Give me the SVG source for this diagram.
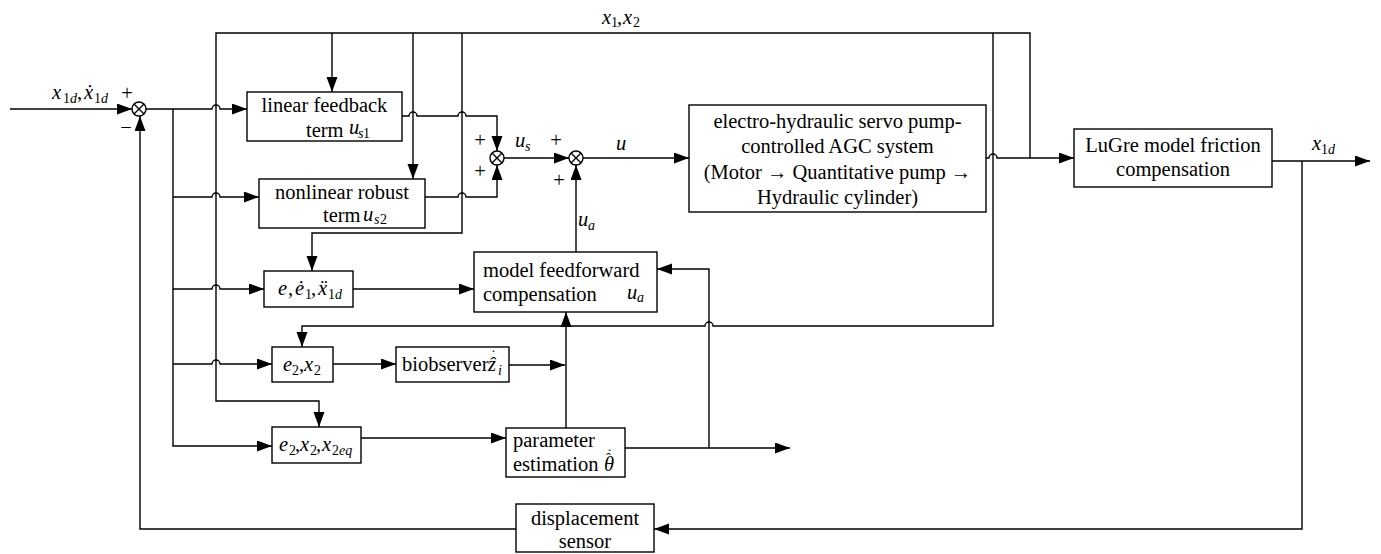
<svg xmlns="http://www.w3.org/2000/svg" width="1381" height="554" viewBox="0 0 1381 554">
<style>
.ln{fill:none;stroke:#000;stroke-width:1.4}
.bx{fill:#fff;stroke:#000;stroke-width:1.4}
.t{font-family:"Liberation Serif","Times New Roman",serif;font-size:20.5px;fill:#000}
.c{text-anchor:middle}
.m{font-family:"Liberation Serif","Times New Roman",serif;font-size:20.5px;font-style:italic;fill:#000}
.su{font-size:14px;font-style:normal}
.si{font-size:14px;font-style:italic}
.up{font-style:normal}
.acc{font-size:15px;font-style:normal}
</style>
<defs>
<marker id="ar" markerUnits="userSpaceOnUse" markerWidth="16" markerHeight="12" refX="15" refY="5.5" orient="auto"><path d="M0,0 L15,5.5 L0,11 z" fill="#000"/></marker>
</defs>

<g id="connectors" class="ln" marker-end="url(#ar)">
<path d="M10,109 H132"/>
<path d="M146,109 H212 A4,4 0 0 1 220,109 H247"/>
<path d="M173,109 V446 H272"/>
<path d="M173,197 H212 A4,4 0 0 1 220,197 H259"/>
<path d="M173,289 H212 A4,4 0 0 1 220,289 H264"/>
<path d="M173,364 H212 A4,4 0 0 1 220,364 H272"/>
<path d="M1030,158 V33 H216 V401 H319 V427"/>
<path d="M332,33 V92"/>
<path d="M413,33 V179"/>
<path d="M462,33 V233 H312 V271"/>
<path d="M993,33 V326 H713 A4,4 0 0 0 705,326 H302 V347"/>
<path d="M402,116 H409 A4,4 0 0 1 417,116 H458 A4,4 0 0 1 466,116 H497 V151"/>
<path d="M425,197 H458 A4,4 0 0 1 466,197 H497 V165"/>
<path d="M504,158 H569"/>
<path d="M583,158 H689"/>
<path d="M576,252 V165"/>
<path d="M986,158 H989 A4,4 0 0 1 997,158 H1074"/>
<path d="M1272,161 H1370"/>
<path d="M1302,161 V529 H654"/>
<path d="M516,529 H140 V116"/>
<path d="M353,289 H474"/>
<path d="M333,364 H396"/>
<path d="M509,365 H565"/>
<path d="M566,428 V312"/>
<path d="M361,438 H506"/>
<path d="M625,448 H790"/>
<path d="M709,448 V269 H657"/>
</g>

<g id="sum1">
<circle class="bx" cx="139" cy="109" r="7"/>
<path class="ln" d="M134,104 L144,114 M144,104 L134,114"/>
<text class="t c" x="127" y="100">+</text>
<text class="t c" x="126" y="134">−</text>
</g>
<g id="sum2">
<circle class="bx" cx="497" cy="158" r="7"/>
<path class="ln" d="M492,153 L502,163 M502,153 L492,163"/>
<text class="t c" x="480" y="147">+</text>
<text class="t c" x="480" y="178">+</text>
</g>
<g id="sum3">
<circle class="bx" cx="576" cy="158" r="7"/>
<path class="ln" d="M571,153 L581,163 M581,153 L571,163"/>
<text class="t c" x="556" y="147">+</text>
<text class="t c" x="559" y="187">+</text>
</g>

<g id="labels">
<text class="m"><tspan x="52" y="99">x</tspan><tspan class="su" x="63" y="103">1</tspan><tspan class="si" x="70" y="103">d</tspan><tspan class="up" x="77" y="99">,</tspan><tspan x="84" y="99">ẋ</tspan><tspan class="su" x="94" y="103">1</tspan><tspan class="si" x="101" y="103">d</tspan></text>
<text class="m"><tspan x="602" y="24">x</tspan><tspan class="su" x="611" y="27">1</tspan><tspan class="up" x="617" y="24">,</tspan><tspan x="623" y="24">x</tspan><tspan class="su" x="633" y="27">2</tspan></text>
<text class="m"><tspan x="515" y="147">u</tspan><tspan class="si" x="525" y="151">s</tspan></text>
<text class="m" x="616" y="150">u</text>
<text class="m"><tspan x="578" y="226">u</tspan><tspan class="si" x="588" y="230">a</tspan></text>
<text class="m"><tspan x="1312" y="150">x</tspan><tspan class="su" x="1321" y="154">1</tspan><tspan class="si" x="1328" y="154">d</tspan></text>
</g>

<g id="linear-feedback">
<rect class="bx" x="247" y="92" width="155" height="49"/>
<text class="t c" x="324.5" y="112">linear feedback</text>
<text class="t" x="306" y="137">term</text>
<text class="m"><tspan x="349" y="134">u</tspan><tspan class="si" x="358" y="137.5">s</tspan><tspan class="su" x="363" y="137.5">1</tspan></text>
</g>

<g id="nonlinear-robust">
<rect class="bx" x="259" y="179" width="166" height="49"/>
<text class="t c" x="342" y="199">nonlinear robust</text>
<text class="t" x="323" y="222">term</text>
<text class="m"><tspan x="363" y="221">u</tspan><tspan class="si" x="374" y="224">s</tspan><tspan class="su" x="380" y="224">2</tspan></text>
</g>

<g id="system">
<rect class="bx" x="689" y="105" width="297" height="107"/>
<text class="t c" x="837.5" y="128">electro-hydraulic servo pump-</text>
<text class="t c" x="837.5" y="153">controlled AGC system</text>
<text class="t c" x="837.5" y="178.5">(Motor → Quantitative pump →</text>
<text class="t c" x="837.5" y="204">Hydraulic cylinder)</text>
</g>

<g id="lugre">
<rect class="bx" x="1074" y="129" width="198" height="58"/>
<text class="t c" x="1173" y="152">LuGre model friction</text>
<text class="t c" x="1173" y="176">compensation</text>
</g>

<g id="model-feedforward">
<rect class="bx" x="474" y="252" width="183" height="60"/>
<text class="t" x="483" y="277">model feedforward</text>
<text class="t" x="483" y="301">compensation</text>
<text class="m"><tspan x="627" y="299">u</tspan><tspan class="si" x="637" y="302">a</tspan></text>
</g>

<g id="error-signals">
<rect class="bx" x="264" y="271" width="89" height="36"/>
<text class="m"><tspan x="278" y="295">e</tspan><tspan class="up" x="288" y="295">,</tspan><tspan x="295" y="295">ė</tspan><tspan class="su" x="305" y="299">1</tspan><tspan class="up" x="311" y="295">,</tspan><tspan x="318" y="295">ẍ</tspan><tspan class="su" x="328" y="299">1</tspan><tspan class="si" x="335" y="299">d</tspan></text>
</g>

<g id="e2x2">
<rect class="bx" x="272" y="347" width="61" height="35"/>
<text class="m"><tspan x="283" y="371">e</tspan><tspan class="su" x="292" y="375">2</tspan><tspan class="up" x="299" y="371">,</tspan><tspan x="304" y="371">x</tspan><tspan class="su" x="314" y="375">2</tspan></text>
</g>

<g id="biobserver">
<rect class="bx" x="396" y="347" width="113" height="35"/>
<text class="t" x="402" y="371">biobserver</text>
<text class="m"><tspan x="488" y="371">ẑ</tspan><tspan class="acc" x="491" y="360">˙</tspan><tspan class="si" x="498" y="375">i</tspan></text>
</g>

<g id="e2x2x2eq">
<rect class="bx" x="272" y="427" width="89" height="36"/>
<text class="m"><tspan x="279" y="451">e</tspan><tspan class="su" x="289" y="455">2</tspan><tspan class="up" x="295" y="451">,</tspan><tspan x="300" y="451">x</tspan><tspan class="su" x="310" y="455">2</tspan><tspan class="up" x="316" y="451">,</tspan><tspan x="322" y="451">x</tspan><tspan class="su" x="332" y="455">2</tspan><tspan class="si" x="339" y="455">eq</tspan></text>
</g>

<g id="parameter-estimation">
<rect class="bx" x="506" y="428" width="119" height="49"/>
<text class="t" x="513" y="447">parameter</text>
<text class="t"><tspan x="513" y="471">estimation</tspan><tspan x="604" y="471" font-style="italic">θ</tspan><tspan class="acc" x="606" y="463">ˆ</tspan><tspan class="acc" x="607" y="459">˙</tspan></text>
</g>

<g id="displacement-sensor">
<rect class="bx" x="516" y="504" width="138" height="48"/>
<text class="t c" x="585" y="525">displacement</text>
<text class="t c" x="585" y="548">sensor</text>
</g>
</svg>
